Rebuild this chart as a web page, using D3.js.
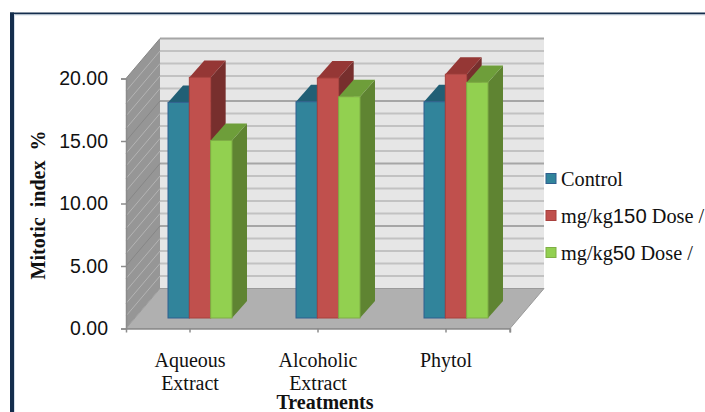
<!DOCTYPE html>
<html>
<head>
<meta charset="utf-8">
<style>
  html, body { margin: 0; padding: 0; background: #fff; }
  svg { display: block; }
</style>
<script src="https://cdnjs.cloudflare.com/ajax/libs/d3/7.8.5/d3.min.js"></script>
</head>
<body>
<svg id="chart" width="705" height="412"></svg>
<script>
// Mitotic index by treatment and dose
const categories = ["Aqueous Extract", "Alcoholic Extract", "Phytol"];
const categoryLines = [["Aqueous", "Extract"], ["Alcoholic", "Extract"], ["Phytol"]];
const controlValues = [17.25, 17.3, 17.3];
const dose150Values = [19.25, 19.2, 19.5];
const dose50Values = [14.2, 17.7, 18.85];
const yTicks = [0, 5, 10, 15, 20];
const minorTicks = d3.range(0, 21, 1);

const seriesList = [
  { name: "Control", values: controlValues, front: "#31849b", top: "#215f75", side: "#215f75", edge: "#2f5f8f" },
  { name: "150", values: dose150Values, front: "#c0504d", top: "#953735", side: "#772f2d", edge: "#a8403d" },
  { name: "50", values: dose50Values, front: "#92d050", top: "#6e9e3a", side: "#5f8432", edge: "#7fae45" }
];

const svg = d3.select("#chart");
const x = d3.scaleBand().domain(categories).range([126, 510]);
const y = d3.scaleLinear().domain([0, 20]).range([328.5, 78.5]);

// Oblique projection: chart depth and the inset of the bars within it
const wallDx = 34, wallDy = -40;
const barInsetX = 10, barInsetY = -10.5;
const barDx = 15, barDy = -17;
const groupWidth = 64;
const inner = d3.scaleBand().domain(d3.range(3)).range([0, groupWidth]);

const serif = "'Liberation Serif', 'Times New Roman', serif";
const sans = "'Liberation Sans', Arial, sans-serif";

// Page frame
svg.append("rect").attr("x", 10).attr("y", 12.5).attr("width", 4).attr("height", 400).attr("fill", "#152e4d");
svg.append("rect").attr("x", 10).attr("y", 12.5).attr("width", 695).attr("height", 2).attr("fill", "#152e4d");
svg.append("rect").attr("x", 14).attr("y", 14.5).attr("width", 691).attr("height", 1).attr("fill", "#d5dfea");
svg.append("rect").attr("x", 14).attr("y", 14.5).attr("width", 1).attr("height", 398).attr("fill", "#d5dfea");

const poly = pts => pts.map(p => p.join(",")).join(" ");
const x0 = x.range()[0], x1 = x.range()[1];

// Back wall, side wall and floor
svg.append("rect").attr("x", x0 + wallDx).attr("y", y(20) + wallDy)
  .attr("width", x1 - x0).attr("height", y(0) - y(20)).attr("fill", "#e6e6e6");
svg.append("polygon").attr("fill", "#969696")
  .attr("points", poly([[x0, y(0)], [x0, y(20)], [x0 + wallDx, y(20) + wallDy], [x0 + wallDx, y(0) + wallDy]]));
svg.append("polygon").attr("fill", "#b0b0b0").attr("stroke", "#9a9a9a")
  .attr("points", poly([[x0, y(0)], [x1, y(0)], [x1 + wallDx, y(0) + wallDy], [x0 + wallDx, y(0) + wallDy]]));

// Gridlines run along the back wall and down the side wall
minorTicks.forEach(t => {
  const major = t % 5 === 0;
  if (t > 0) {
    svg.append("line")
      .attr("x1", x0 + wallDx).attr("x2", x1 + wallDx)
      .attr("y1", y(t) + wallDy).attr("y2", y(t) + wallDy)
      .attr("stroke", major ? "#a6a6a6" : "#c2c2c2").attr("stroke-width", 2);
    svg.append("line")
      .attr("x1", x0).attr("x2", x0 + wallDx)
      .attr("y1", y(t)).attr("y2", y(t) + wallDy)
      .attr("stroke", major ? "#868686" : "#b4b4b4").attr("stroke-width", 1);
  }
});

// Bars: side and top faces first, then the front face
categories.forEach((cat, ci) => {
  const gx = x(cat) + (x.bandwidth() - groupWidth) / 2 + barInsetX;
  // Later series overlap the depth faces of earlier ones
  seriesList.forEach((s, si) => {
    const left = gx + inner(si), right = left + inner.bandwidth();
    const topY = y(s.values[ci]) + barInsetY, baseY = y(0) + barInsetY;
    const g = svg.append("g").attr("class", "bar");
    g.append("polygon").attr("fill", s.side)
      .attr("points", poly([[right, topY], [right + barDx, topY + barDy], [right + barDx, baseY + barDy], [right, baseY]]));
    g.append("polygon").attr("fill", s.top)
      .attr("points", poly([[left, topY], [left + barDx, topY + barDy], [right + barDx, topY + barDy], [right, topY]]));
    g.append("rect").attr("x", left).attr("y", topY)
      .attr("width", right - left).attr("height", baseY - topY)
      .attr("fill", s.front).attr("stroke", s.edge).attr("stroke-width", 1);
  });
});

// Value axis
const yAxis = d3.axisLeft(y).tickValues(yTicks).tickFormat(d3.format(".2f")).tickSize(5).tickPadding(13);
const yG = svg.append("g").attr("transform", `translate(${x0},0)`).call(yAxis);
yG.select(".domain").attr("stroke", "#8c8c8c").attr("stroke-width", 1.5);
yG.selectAll(".tick line").attr("stroke", "#8c8c8c").attr("stroke-width", 1.5);
yG.selectAll("text").attr("font-family", sans).attr("font-size", 19.5).attr("fill", "#111");

// Category axis
const xG = svg.append("g").attr("transform", `translate(0,${y(0)})`)
  .call(d3.axisBottom(x).tickSize(4).tickFormat(""));
xG.select(".domain").attr("stroke", "#8c8c8c").attr("stroke-width", 1.5);
xG.selectAll(".tick line").attr("stroke", "#8c8c8c").attr("stroke-width", 1.5);
xG.append("line").attr("x1", x1).attr("x2", x1).attr("y1", 0).attr("y2", 4)
  .attr("stroke", "#8c8c8c").attr("stroke-width", 1.5);

// Multi-line category labels
categories.forEach((cat, ci) => {
  const t = svg.append("text")
    .attr("text-anchor", "middle")
    .attr("font-family", serif).attr("font-size", 20).attr("fill", "#111");
  categoryLines[ci].forEach((line, li) => {
    t.append("tspan").attr("x", x(cat) + x.bandwidth() / 2).attr("y", 367 + li * 23.2).text(line);
  });
});

// Axis titles
svg.append("text").attr("transform", "translate(45,205) rotate(-90)")
  .attr("text-anchor", "middle")
  .attr("font-family", serif).attr("font-size", 20).attr("font-weight", "bold").attr("fill", "#111")
  .attr("xml:space", "preserve").text("Mitotic  index  %");
svg.append("text").attr("x", 325).attr("y", 408.5)
  .attr("text-anchor", "middle")
  .attr("font-family", serif).attr("font-size", 20).attr("font-weight", "bold").attr("fill", "#111")
  .text("Treatments");

// Legend
const legendY = d3.scalePoint().domain(seriesList.map(s => s.name)).range([178.5, 252.5]);
seriesList.forEach(s => {
  const cy = legendY(s.name);
  svg.append("rect").attr("x", 546).attr("y", cy - 5).attr("width", 10).attr("height", 10)
    .attr("fill", s.front).attr("stroke", s.edge).attr("stroke-width", 1);
  const t = svg.append("text").attr("x", 561).attr("y", cy + 7.5)
    .attr("font-family", serif).attr("font-size", 20.3).attr("fill", "#111");
  if (s.name === "Control") {
    t.text(s.name);
  } else {
    t.append("tspan").text("mg/kg");
    t.append("tspan").attr("font-family", sans).text(s.name);
    t.append("tspan").text(" Dose /");
  }
});
</script>
</body>
</html>
